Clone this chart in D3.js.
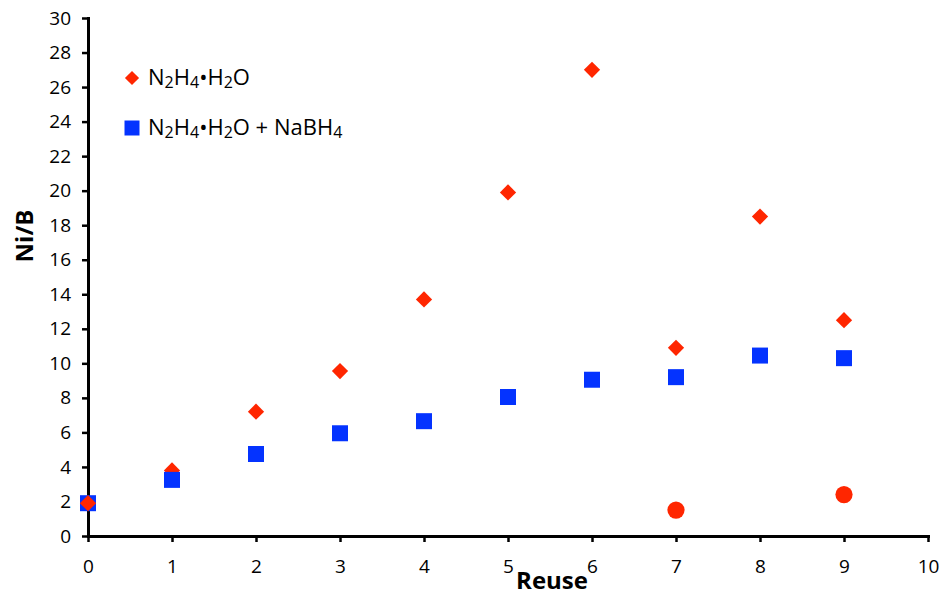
<!DOCTYPE html>
<html>
<head>
<meta charset="utf-8">
<script src="https://cdn.jsdelivr.net/npm/d3@7"></script>
<style>
  body { margin: 0; background: #fff; }
  text { font-family: "Open Sans", "Liberation Sans", sans-serif; fill: #000; }
</style>
</head>
<body>
<svg id="chart" width="945" height="596"></svg>
<script>
// Ni/B ratio of the catalyst after each reuse cycle
const reuse = [0, 1, 2, 3, 4, 5, 6, 7, 8, 9];
const hydrazineOnly = [1.9, 3.8, 7.2, 9.55, 13.7, 19.9, 27.0, 10.9, 18.5, 12.5];
const hydrazineBorohydride = [1.9, 3.25, 4.75, 5.95, 6.65, 8.05, 9.05, 9.2, 10.45, 10.3];
const extraReuse = [7, 9];
const extraValues = [1.5, 2.4];
const xTicks = [0, 1, 2, 3, 4, 5, 6, 7, 8, 9, 10];
const yTicks = [0, 2, 4, 6, 8, 10, 12, 14, 16, 18, 20, 22, 24, 26, 28, 30];

const RED = "#ff2600";
const BLUE = "#0433ff";

const svg = d3.select("#chart");
const x = d3.scaleLinear().domain([0, 10]).range([88, 928]);
const y = d3.scaleLinear().domain([0, 30]).range([536, 18]);

const redPts = reuse.map((r, i) => ({ r, v: hydrazineOnly[i] }));
const bluePts = reuse.map((r, i) => ({ r, v: hydrazineBorohydride[i] }));
const circPts = extraReuse.map((r, i) => ({ r, v: extraValues[i] }));

// axes
const yAxis = svg.append("g")
  .attr("transform", `translate(${x(0)},0)`)
  .call(d3.axisLeft(y).tickValues(yTicks).tickSize(6).tickSizeOuter(0).tickPadding(11));
const xAxis = svg.append("g")
  .attr("transform", `translate(0,${y(0)})`)
  .call(d3.axisBottom(x).tickValues(xTicks).tickSize(6).tickSizeOuter(0));

[xAxis, yAxis].forEach(g => {
  g.select(".domain").attr("stroke", "#000").attr("stroke-width", 3).attr("stroke-linecap", "square");
  g.selectAll(".tick line").attr("stroke", "#000").attr("stroke-width", 2.5);
  g.selectAll(".tick text").attr("font-size", 19).attr("font-family", null).attr("fill", "#000");
});
xAxis.selectAll(".tick text").attr("y", 37).attr("dy", 0);

// axis titles
svg.append("text")
  .attr("x", 552).attr("y", 589)
  .attr("text-anchor", "middle")
  .attr("font-size", 24).attr("font-weight", "bold")
  .text("Reuse");
svg.append("text")
  .attr("transform", "translate(33,236) rotate(-90)")
  .attr("text-anchor", "middle")
  .attr("font-size", 24).attr("font-weight", "bold")
  .text("Ni/B");

const diamond = d3.symbol(d3.symbolSquare, 132);
const square = d3.symbol(d3.symbolSquare, 256);

// markers
const marks = svg.append("g");
marks.selectAll(".dia").data(redPts.filter(d => d.r > 0)).join("path")
  .attr("d", diamond)
  .attr("fill", RED)
  .attr("transform", d => `translate(${x(d.r)},${y(d.v)}) rotate(45)`);
marks.selectAll(".sq").data(bluePts).join("path")
  .attr("class", "sq")
  .attr("d", square)
  .attr("fill", BLUE)
  .attr("transform", d => `translate(${x(d.r)},${y(d.v)})`);
marks.selectAll(".dia0").data(redPts.filter(d => d.r === 0)).join("path")
  .attr("class", "dia0")
  .attr("d", diamond)
  .attr("fill", RED)
  .attr("transform", d => `translate(${x(d.r)},${y(d.v)}) rotate(45)`);
marks.selectAll("circle").data(circPts).join("circle")
  .attr("cx", d => x(d.r))
  .attr("cy", d => y(d.v))
  .attr("r", 8.6)
  .attr("fill", RED);

// legend
const legend = svg.append("g");
legend.append("path")
  .attr("d", d3.symbol(d3.symbolSquare, 100))
  .attr("fill", RED)
  .attr("transform", "translate(132,78) rotate(45)");
legend.append("path")
  .attr("d", d3.symbol(d3.symbolSquare, 225))
  .attr("fill", BLUE)
  .attr("transform", "translate(132,128)");

// chemical formula with subscripted digits
function formula(g, yPos, parts) {
  const t = g.append("text").attr("x", 148).attr("y", yPos).attr("font-size", 22);
  parts.forEach(([s, sub], i) => {
    const prevSub = i > 0 && parts[i - 1][1];
    t.append("tspan")
      .text(s)
      .attr("font-size", sub ? 16 : null)
      .attr("dy", sub && !prevSub ? 3 : (!sub && prevSub ? -3 : 0));
  });
}
formula(legend, 85, [["N", 0], ["2", 1], ["H", 0], ["4", 1], ["\u2022H", 0], ["2", 1], ["O", 0]]);
formula(legend, 135, [["N", 0], ["2", 1], ["H", 0], ["4", 1], ["\u2022H", 0], ["2", 1], ["O + NaBH", 0], ["4", 1]]);
</script>
</body>
</html>
